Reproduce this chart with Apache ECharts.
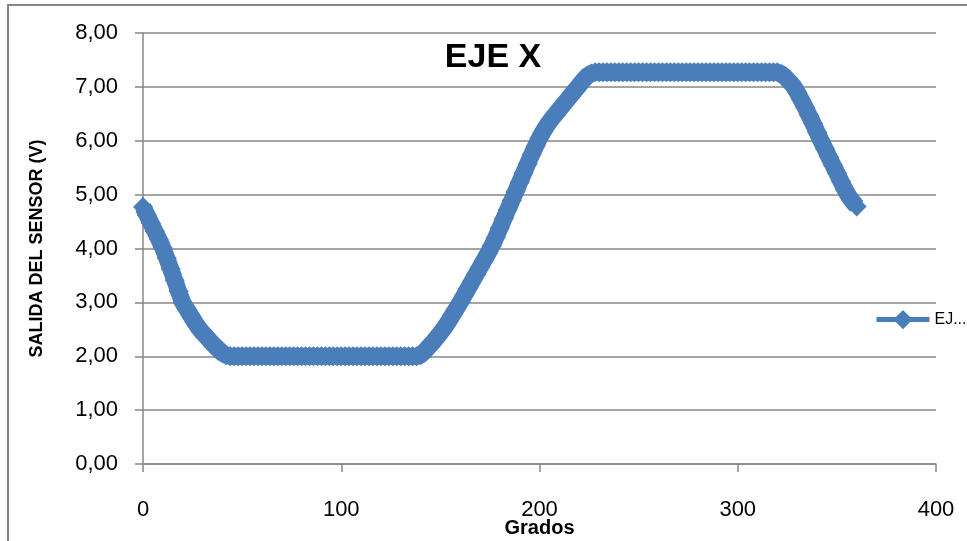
<!DOCTYPE html>
<html>
<head>
<meta charset="utf-8">
<style>
  html, body { margin: 0; padding: 0; background: #fff; }
  #chart { width: 967px; height: 541px; }
</style>
<script src="https://cdn.jsdelivr.net/npm/echarts@6/dist/echarts.min.js"></script>
</head>
<body>
<div id="chart"></div>
<script>
// Angle of the sensor (degrees) and its output voltage
const grados = [
  0, 2, 4, 6, 8, 10, 12, 14, 16, 18, 20, 22, 24, 26, 28, 30, 32, 34, 36, 38,
  40, 42, 44, 46, 48, 50, 52, 54, 56, 58, 60, 62, 64, 66, 68, 70, 72, 74, 76, 78,
  80, 82, 84, 86, 88, 90, 92, 94, 96, 98, 100, 102, 104, 106, 108, 110, 112, 114, 116, 118,
  120, 122, 124, 126, 128, 130, 132, 134, 136, 138, 140, 142, 144, 146, 148, 150, 152, 154, 156, 158,
  160, 162, 164, 166, 168, 170, 172, 174, 176, 178, 180, 182, 184, 186, 188, 190, 192, 194, 196, 198,
  200, 202, 204, 206, 208, 210, 212, 214, 216, 218, 220, 222, 224, 226, 228, 230, 232, 234, 236, 238,
  240, 242, 244, 246, 248, 250, 252, 254, 256, 258, 260, 262, 264, 266, 268, 270, 272, 274, 276, 278,
  280, 282, 284, 286, 288, 290, 292, 294, 296, 298, 300, 302, 304, 306, 308, 310, 312, 314, 316, 318,
  320, 322, 324, 326, 328, 330, 332, 334, 336, 338, 340, 342, 344, 346, 348, 350, 352, 354, 356, 358,
  360
];
const salida = [
  4.77, 4.62, 4.47, 4.32, 4.17, 4.01, 3.82, 3.62, 3.41, 3.20, 3.00, 2.88, 2.76, 2.64, 2.53, 2.44, 2.36, 2.28, 2.20, 2.13,
  2.06, 2.02, 2.00, 2.00, 2.00, 2.00, 2.00, 2.00, 2.00, 2.00, 2.00, 2.00, 2.00, 2.00, 2.00, 2.00, 2.00, 2.00, 2.00, 2.00,
  2.00, 2.00, 2.00, 2.00, 2.00, 2.00, 2.00, 2.00, 2.00, 2.00, 2.00, 2.00, 2.00, 2.00, 2.00, 2.00, 2.00, 2.00, 2.00, 2.00,
  2.00, 2.00, 2.00, 2.00, 2.00, 2.00, 2.00, 2.00, 2.00, 2.00, 2.02, 2.09, 2.17, 2.25, 2.34, 2.43, 2.53, 2.64, 2.76, 2.88,
  3.00, 3.13, 3.26, 3.39, 3.52, 3.65, 3.78, 3.91, 4.05, 4.21, 4.38, 4.55, 4.72, 4.89, 5.06, 5.23, 5.40, 5.57, 5.74, 5.90,
  6.05, 6.18, 6.30, 6.40, 6.49, 6.58, 6.67, 6.76, 6.85, 6.94, 7.03, 7.12, 7.20, 7.25, 7.27, 7.27, 7.27, 7.27, 7.27, 7.27,
  7.27, 7.27, 7.27, 7.27, 7.27, 7.27, 7.27, 7.27, 7.27, 7.27, 7.27, 7.27, 7.27, 7.27, 7.27, 7.27, 7.27, 7.27, 7.27, 7.27,
  7.27, 7.27, 7.27, 7.27, 7.27, 7.27, 7.27, 7.27, 7.27, 7.27, 7.27, 7.27, 7.27, 7.27, 7.27, 7.27, 7.27, 7.27, 7.27, 7.27,
  7.27, 7.24, 7.18, 7.10, 7.02, 6.90, 6.76, 6.62, 6.47, 6.32, 6.16, 6.00, 5.85, 5.70, 5.55, 5.40, 5.25, 5.10, 4.97, 4.87,
  4.78
];
const serieNombre = 'EJE X';
const tituloTexto = 'EJE X';
const ejeXNombre = 'Grados';
const ejeYNombre = 'SALIDA DEL SENSOR (V)';

const puntos = grados.map((g, i) => [g, salida[i]]);

const gris = '#878787';
const azul = '#4a7ebb';
const fuente = 'Liberation Sans';

const chart = echarts.init(document.getElementById('chart'), null, { renderer: 'canvas' });
chart.setOption({
  animation: false,
  backgroundColor: '#ffffff',
  textStyle: { fontFamily: fuente },
  graphic: [{
    type: 'rect',
    shape: { x: 8, y: 5, width: 1000, height: 600 },
    style: { fill: 'none', stroke: gris, lineWidth: 2 },
    silent: true,
    z: -1
  }],
  title: {
    text: tituloTexto,
    left: 488,
    top: 36,
    textAlign: 'center',
    textStyle: { fontFamily: fuente, fontSize: 34, fontWeight: 'bold', color: '#000' }
  },
  legend: {
    left: 869,
    top: 305,
    itemWidth: 53,
    itemHeight: 24,
    itemGap: 0,
    data: [serieNombre],
    lineStyle: { width: 5 },
    textStyle: {
      fontFamily: fuente, fontSize: 16, color: '#000',
      width: 38, overflow: 'truncate', ellipsis: '...'
    }
  },
  grid: { left: 143, right: 31, top: 33, bottom: 77, containLabel: false, outerBoundsMode: 'none' },
  xAxis: {
    type: 'value',
    min: 0, max: 400, interval: 100,
    name: ejeXNombre,
    nameLocation: 'middle',
    nameGap: 54,
    nameMoveOverlap: false,
    nameTextStyle: { fontFamily: fuente, fontSize: 20, fontWeight: 'bold', color: '#000' },
    axisLine: { show: true, onZero: false, lineStyle: { color: gris, width: 1.5 } },
    axisTick: { show: true, inside: false, length: 8, lineStyle: { color: gris, width: 1.5 } },
    axisLabel: { margin: 35, fontFamily: fuente, fontSize: 22, color: '#000' },
    splitLine: { show: false }
  },
  yAxis: {
    type: 'value',
    min: 0, max: 8, interval: 1,
    name: ejeYNombre,
    nameLocation: 'middle',
    nameGap: 97,
    nameMoveOverlap: false,
    nameTextStyle: { fontFamily: fuente, fontSize: 18, fontWeight: 'bold', color: '#000' },
    axisLine: { show: true, lineStyle: { color: gris, width: 1.5 } },
    axisTick: { show: true, inside: false, length: 8, lineStyle: { color: gris, width: 1.5 } },
    axisLabel: {
      margin: 25, fontFamily: fuente, fontSize: 22, color: '#000',
      formatter: v => v.toFixed(2).replace('.', ',')
    },
    splitLine: { show: true, lineStyle: { color: gris, width: 1.5 } }
  },
  series: [{
    name: serieNombre,
    type: 'line',
    data: puntos,
    showAllSymbol: true,
    symbol: 'diamond',
    symbolSize: 20,
    color: azul,
    itemStyle: { color: azul },
    lineStyle: { color: azul, width: 17, join: 'round' },
    z: 3
  }]
});
</script>
</body>
</html>
